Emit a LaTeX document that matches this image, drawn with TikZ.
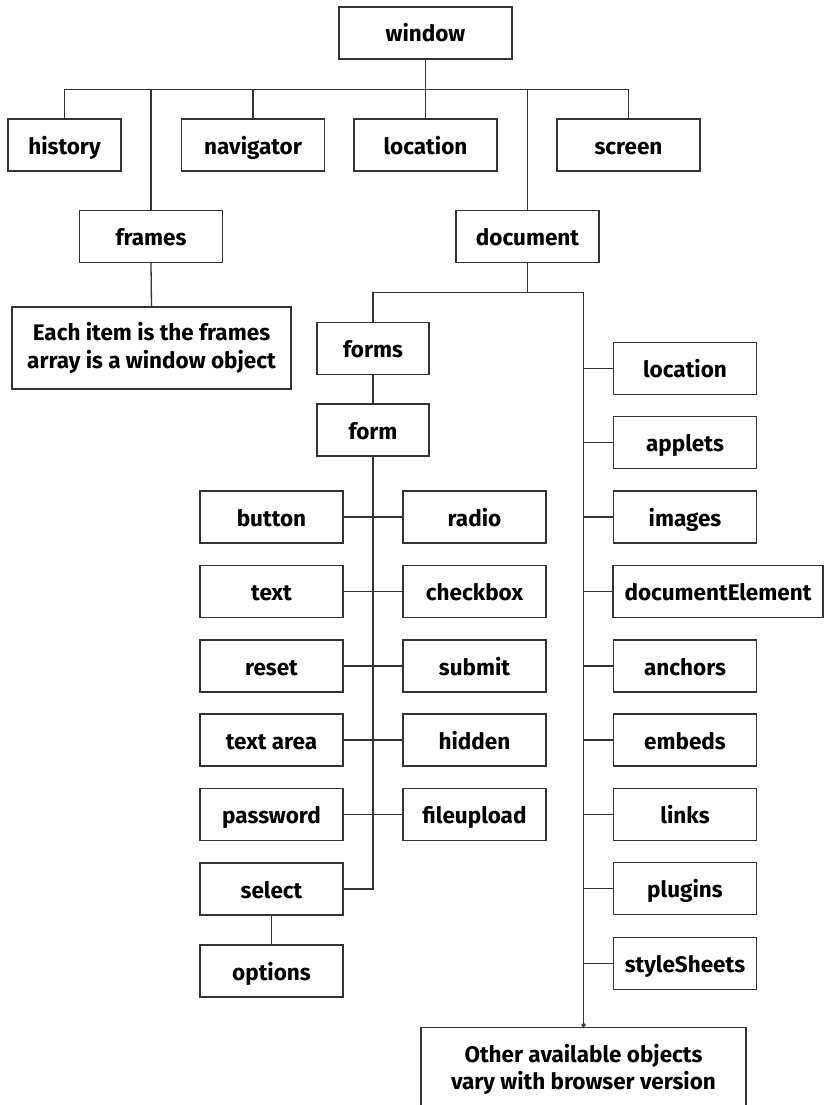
\documentclass[tikz,border=0pt]{standalone}
\usepackage{fontspec}
\setmainfont{Fira Sans}
\usetikzlibrary{arrows.meta}
\begin{document}
\begin{tikzpicture}[x=1pt,y=-1pt,
  base/.style={draw=black!80, line width=1.3pt, fill=white, inner sep=0pt,
    font=\fontsize{22.5}{27.5}\selectfont\bfseries, text=black},
  box/.style={base, minimum height=52pt, minimum width=143pt,
    text height=20pt, text depth=2pt},
  note/.style={base, align=center},
  link/.style={draw=black!80, line width=1.3pt}]
\useasboundingbox (0,0) rectangle (824,1105);
% top level
\node[box, minimum width=173pt] (win) at (425.5,33) {window};
\node[box, minimum width=113pt] (history) at (64.5,145) {history};
\node[box] (navigator) at (253,145) {navigator};
\node[box] (location) at (425.5,145) {location};
\node[box] (screen) at (628.5,145) {screen};
\node[box] (frames) at (151,236.5) {frames};
\node[box] (document) at (527.5,236.5) {document};
\node[note, minimum width=279pt, minimum height=82pt] (each) at (151.5,348) {Each item is the frames\\array is a window object};
% forms branch
\node[box, minimum width=112pt] (forms) at (373,348.5) {forms};
\node[box, minimum width=112pt] (form) at (373,430) {form};
\node[box] (button) at (271.5,517) {button};
\node[box] (radio) at (474.5,517) {radio};
\node[box] (text) at (271.5,591.5) {text};
\node[box] (checkbox) at (474.5,591.5) {checkbox};
\node[box] (reset) at (271.5,666) {reset};
\node[box] (submit) at (474.5,666) {submit};
\node[box] (textarea) at (271.5,740) {text area};
\node[box] (hidden) at (474.5,740) {hidden};
\node[box] (password) at (271.5,814.5) {password};
\node[box] (fileupload) at (474.5,814.5) {fileupload};
\node[box] (select) at (271.5,889) {select};
\node[box] (options) at (271.5,971) {options};
% right column
\node[box] (dloc) at (685,368.5) {location};
\node[box] (applets) at (685,442.5) {applets};
\node[box] (images) at (685,517) {images};
\node[box, minimum width=210pt] (docel) at (718,591.5) {documentElement};
\node[box] (anchors) at (685,666) {anchors};
\node[box] (embeds) at (685,740) {embeds};
\node[box] (links) at (685,814.5) {links};
\node[box] (plugins) at (685,888.5) {plugins};
\node[box] (stylesheets) at (685,963.5) {styleSheets};
\node[note, anchor=north, minimum width=325pt, minimum height=83pt] (other) at (583.5,1027) {Other available objects\\vary with browser version};
% connectors from window
\foreach \c in {history,navigator,location,screen,frames,document}
  \draw[link] (win.south) -- ++(0,30) -| (\c.north);
\draw[link] (frames.south) -- (each.north);
% document
\draw[link] (document.south) -- ++(0,29.5) -| (forms.north);
\draw[link, -{Circle[length=4pt]}] (document.south) -- ++(0,29.5) -| (other.north);
\foreach \c in {dloc,applets,images,docel,anchors,embeds,links,plugins,stylesheets}
  \draw[link] (\c.west) -- (\c.west -| other.north);
% forms
\draw[link] (forms.south) -- (form.north);
\draw[link] (form.south) |- (select.east);
\draw[link] (button.east) -- (radio.west);
\draw[link] (text.east) -- (checkbox.west);
\draw[link] (reset.east) -- (submit.west);
\draw[link] (textarea.east) -- (hidden.west);
\draw[link] (password.east) -- (fileupload.west);
\draw[link] (select.south) -- (options.north);
\end{tikzpicture}
\end{document}
